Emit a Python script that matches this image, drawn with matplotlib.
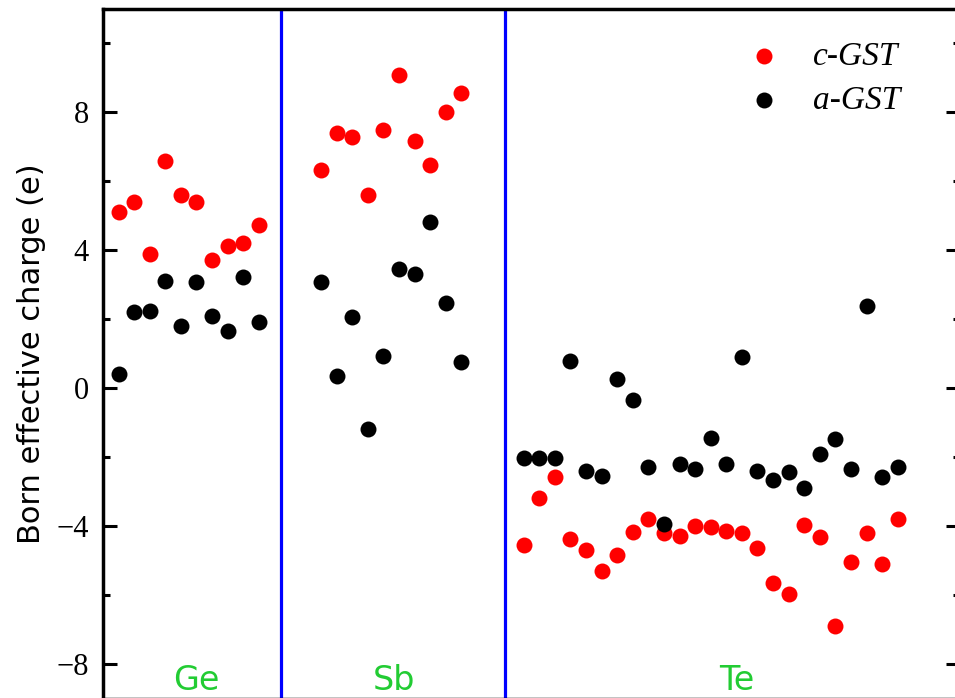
import numpy as np
import matplotlib
matplotlib.use("Agg")
import matplotlib.pyplot as plt
from matplotlib.ticker import MultipleLocator

# Born effective charges
ge_c = [5.09, 5.40, 3.88, 6.57, 5.58, 5.40, 3.71, 4.13, 4.19, 4.73]
ge_a = [0.42, 2.19, 2.22, 3.11, 1.81, 3.06, 2.10, 1.64, 3.23, 1.90]

sb_c = [6.32, 7.40, 7.27, 5.60, 7.48, 9.07, 7.16, 6.46, 8.01, 8.54]
sb_a = [3.08, 0.34, 2.07, -1.19, 0.93, 3.44, 3.31, 4.82, 2.47, 0.76]

te_c = [-4.55, -3.18, -2.57, -4.39, -4.70, -5.31, -4.84, -4.16, -3.80, -4.20,
        -4.29, -4.00, -4.04, -4.14, -4.21, -4.63, -5.64, -5.96, -3.97, -4.31,
        -6.90, -5.04, -4.20, -5.11, -3.80]
te_a = [-2.04, -2.02, -2.02, 0.77, -2.40, -2.55, 0.27, -0.36, -2.28, -3.93,
        -2.19, -2.35, -1.46, -2.21, 0.89, -2.41, -2.68, -2.43, -2.90, -1.92,
        -1.48, -2.35, 2.39, -2.57, -2.28]

# atom index positions for each element block
ge_x = np.arange(1, 11)
sb_x = np.arange(14, 24)
te_x = np.arange(27, 52)
dividers = [11.42, 25.8]
groups = ["Ge", "Sb", "Te"]
group_x = [5.97, 18.7, 40.7]

c_vals = ge_c + sb_c + te_c
a_vals = ge_a + sb_a + te_a
xs = np.concatenate([ge_x, sb_x, te_x])

fig = plt.figure(figsize=(9.55, 6.98), dpi=100)
ax = fig.add_axes([103 / 955, -0.5 / 698, 857 / 955, 690 / 698])

ax.scatter(xs, c_vals, s=132, color="#ff0000", linewidths=0, label="c-GST", zorder=3)
ax.scatter(xs, a_vals, s=132, color="black", linewidths=0, label="a-GST", zorder=4)

for d in dividers:
    ax.axvline(d, color="#0000ff", lw=2.3, zorder=2)

for name, gx in zip(groups, group_x):
    ax.text(gx, -8.74, name, color="#22cc33", fontsize=24, ha="center",
            va="baseline", family="DejaVu Sans")

ax.set_xlim(0, 55)
ax.set_ylim(-9, 11)
ax.yaxis.set_major_locator(MultipleLocator(4))
ax.yaxis.set_minor_locator(MultipleLocator(2))
ax.set_xticks([])
ax.tick_params(axis="y", which="both", direction="in", left=True, right=True,
               labelleft=True, labelright=False, width=2.2, pad=10)
ax.tick_params(axis="y", which="major", length=10)
ax.tick_params(axis="y", which="minor", length=5)
for lab in ax.get_yticklabels():
    lab.set_family("Liberation Serif")
    lab.set_fontsize(22)

for sp in ax.spines.values():
    sp.set_linewidth(2.5)

ax.set_ylabel("Born effective charge (e)", fontsize=22, family="DejaVu Sans")
ax.yaxis.set_label_coords(-0.067, 0.5)

leg = ax.legend(loc="upper left", bbox_to_anchor=(731 / 955, 1 - 25 / 698),
                bbox_transform=fig.transFigure, frameon=False, borderpad=0,
                handlelength=1.0, handletextpad=0.95, labelspacing=0.4,
                prop={"family": "Liberation Serif", "style": "italic", "size": 24})

fig.savefig("out.png", dpi=100)
